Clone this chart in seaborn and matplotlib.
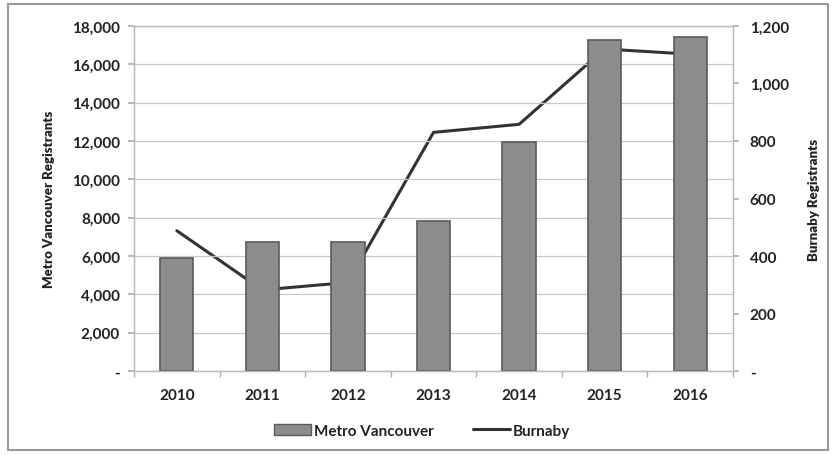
import matplotlib
matplotlib.use("Agg")
import numpy as np
import pandas as pd
import matplotlib.pyplot as plt
import seaborn as sns
from matplotlib.ticker import FuncFormatter, FixedLocator
from matplotlib.patches import Patch, Rectangle
from matplotlib.lines import Line2D

# Datos
years = ["2010", "2011", "2012", "2013", "2014", "2015", "2016"]
metro_vancouver = [5900, 6730, 6730, 7830, 11950, 17270, 17430]
burnaby = [488, 282, 308, 830, 858, 1120, 1102]

left_ticks = list(range(0, 18001, 2000))
right_ticks = list(range(0, 1201, 200))

sns.set_theme(style="white")
plt.rcParams['font.family'] = ['Lato', 'DejaVu Sans']

df = pd.DataFrame({"Year": years, "Metro Vancouver": metro_vancouver, "Burnaby": burnaby})

fig = plt.figure(figsize=(8.36, 4.56), dpi=100)
ax = fig.add_axes([0.1603, 0.1842, 0.7165, 0.7566])
ax2 = ax.twinx()

# barras encima de la linea
ax.set_zorder(ax2.get_zorder() + 1)
ax.patch.set_visible(False)

sns.barplot(data=df, x="Year", y="Metro Vancouver", ax=ax, color="#8c8c8c",
            saturation=1, width=0.39, edgecolor="#5a5a5a", linewidth=1.2)
ax2.plot(np.arange(len(years)), df["Burnaby"], color="#333333", linewidth=2.2)

fmt = FuncFormatter(lambda v, p: "-" if v == 0 else f"{v:,.0f}")

ax.set_xlim(-0.5, len(years) - 0.5)
ax.set_ylim(0, 18000)
ax.set_yticks(left_ticks)
ax.yaxis.set_major_formatter(fmt)
ax2.set_ylim(0, 1200)
ax2.set_yticks(right_ticks)
ax2.yaxis.set_major_formatter(fmt)

ax.grid(axis="y", color="#c8c8c8", linewidth=0.9, zorder=0)
ax.set_axisbelow(True)

ax.xaxis.set_minor_locator(FixedLocator(np.arange(-0.5, len(years), 1)))
ax.tick_params(axis="x", which="major", length=0, pad=12, labelsize=11, labelcolor="#222222")
ax.tick_params(axis="x", which="minor", length=4, color="#b0b0b0", bottom=True)
ax.tick_params(axis="y", length=4, color="#b0b0b0", left=True, labelsize=11, labelcolor="#222222", pad=6)
ax2.tick_params(axis="y", length=4, color="#b0b0b0", right=True, labelsize=11, labelcolor="#222222", pad=8)
for lab in ax.get_xticklabels() + ax.get_yticklabels() + ax2.get_yticklabels():
    lab.set_fontweight("bold")

ax.set_xlabel("")
ax.set_ylabel("Metro Vancouver Registrants", fontsize=9.5, fontweight="heavy", color="#222222", labelpad=12)
ax2.set_ylabel("Burnaby Registrants", fontsize=9.5, fontweight="heavy", color="#222222", labelpad=14)

for a in (ax, ax2):
    for s in a.spines.values():
        s.set_color("#b8b8b8")
        s.set_linewidth(0.9)

handles = [Patch(facecolor="#8c8c8c", edgecolor="#5a5a5a"),
           Line2D([0], [0], color="#333333", linewidth=2.2)]
leg = fig.legend(handles, ["Metro Vancouver", "Burnaby"], loc="center", bbox_to_anchor=(0.505, 0.053),
                 ncol=2, frameon=False, fontsize=11, handlelength=2.4, handletextpad=0.2, columnspacing=2.6)
for t in leg.get_texts():
    t.set_fontweight("bold")
    t.set_color("#222222")

# marco exterior del grafico
fig.patches.append(Rectangle((0.01, 0.01), 0.98, 0.978, transform=fig.transFigure,
                             fill=False, edgecolor="#9a9a9a", linewidth=1.5))

fig.savefig("out.png", dpi=100)
